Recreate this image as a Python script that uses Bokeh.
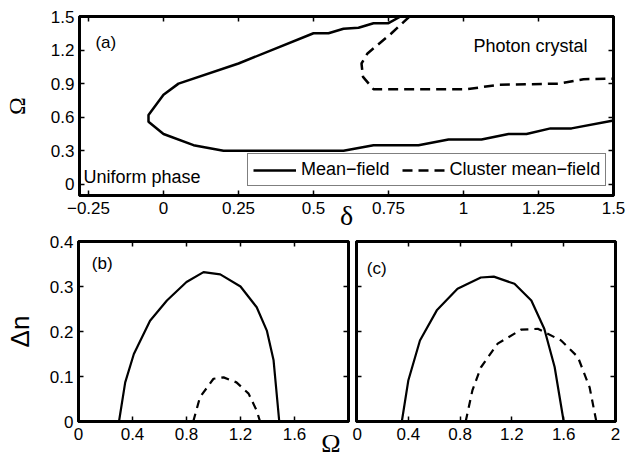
from bokeh.plotting import figure
from bokeh.layouts import column, row
from bokeh.models import Range1d, LinearAxis, FixedTicker, Label, Legend, LegendItem
from bokeh.embed import file_html
from bokeh.resources import INLINE

# ---- (a) phase diagram: detuning delta vs drive Omega ----
mf_delta = [0.79, 0.75, 0.70, 0.65, 0.60, 0.55, 0.50, 0.25, 0.05, 0.0, -0.05, -0.05,
            0.0, 0.10, 0.20, 0.60, 0.70, 0.85, 0.95, 1.06, 1.15, 1.21, 1.29, 1.36, 1.50]
mf_omega = [1.50, 1.44, 1.44, 1.40, 1.39, 1.35, 1.35, 1.08, 0.90, 0.80, 0.62, 0.56,
            0.45, 0.35, 0.30, 0.30, 0.35, 0.35, 0.40, 0.40, 0.45, 0.45, 0.50, 0.50, 0.57]
cmf_delta = [0.82, 0.76, 0.68, 0.66, 0.665, 0.70, 1.01, 1.12, 1.32, 1.40, 1.50]
cmf_omega = [1.50, 1.35, 1.17, 1.08, 0.96, 0.85, 0.85, 0.89, 0.90, 0.94, 0.945]

top_xticks = [-0.25, 0, 0.25, 0.5, 0.75, 1, 1.25, 1.5]
top_xlabels = ["\u22120.25", "0", "0.25", "0.5", "0.75", "1", "1.25", "1.5"]
top_yticks = [0, 0.3, 0.6, 0.9, 1.2, 1.5]
top_ylabels = ["0", "0.3", "0.6", "0.9", "1.2", "1.5"]

# ---- (b) and (c): order parameter Delta n vs Omega ----
b_mf_omega = [0.30, 0.346, 0.41, 0.53, 0.655, 0.80, 0.926, 1.05, 1.20, 1.32, 1.395, 1.445, 1.487]
b_mf_dn = [0.0, 0.087, 0.15, 0.224, 0.269, 0.31, 0.332, 0.327, 0.30, 0.254, 0.202, 0.136, 0.0]
b_cmf_omega = [0.85, 0.90, 1.0, 1.075, 1.17, 1.26, 1.32, 1.345]
b_cmf_dn = [0.0, 0.054, 0.095, 0.098, 0.087, 0.062, 0.024, 0.0]

c_mf_omega = [0.35, 0.40, 0.49, 0.62, 0.78, 0.96, 1.06, 1.22, 1.35, 1.45, 1.53, 1.60]
c_mf_dn = [0.0, 0.091, 0.18, 0.247, 0.295, 0.32, 0.322, 0.306, 0.269, 0.206, 0.121, 0.0]
c_cmf_omega = [0.843, 0.895, 0.96, 1.09, 1.27, 1.40, 1.58, 1.71, 1.80, 1.852]
c_cmf_dn = [0.0, 0.069, 0.12, 0.173, 0.204, 0.206, 0.18, 0.143, 0.076, 0.0]

b_xticks = [0, 0.4, 0.8, 1.2, 1.6]
c_xticks = [0, 0.4, 0.8, 1.2, 1.6, 2]
x_labels = ["0", "0.4", "0.8", "1.2", "1.6", "2"]
dn_ticks = [0, 0.1, 0.2, 0.3, 0.4]
dn_labels = ["0", "0.1", "0.2", "0.3", "0.4"]

SANS = "Liberation Sans"
SERIF = "Liberation Serif"
TICK_FS = "17px"


def style_axis(ax, ticks, labels, show_labels, standoff=5):
    ax.ticker = FixedTicker(ticks=ticks)
    ax.major_label_overrides = {t: l for t, l in zip(ticks, labels)}
    ax.axis_line_width = 3
    ax.axis_line_color = "black"
    ax.major_tick_in = 5
    ax.major_tick_out = 0
    ax.major_tick_line_width = 1.5
    ax.major_tick_line_color = "black"
    ax.minor_tick_in = 0
    ax.minor_tick_out = 0
    ax.major_label_text_font = SANS
    ax.major_label_text_color = "black"
    ax.axis_label_standoff = 0
    ax.axis_label_text_color = "black"
    ax.axis_label_text_font_style = "normal"
    if show_labels:
        ax.major_label_text_font_size = TICK_FS
        ax.major_label_standoff = standoff
    else:
        ax.major_label_text_font_size = "0px"
        ax.major_label_standoff = 0


def axis_title(ax, s, font, size, standoff):
    ax.axis_label = s
    ax.axis_label_text_font = font
    ax.axis_label_text_font_size = size
    ax.axis_label_standoff = standoff


def panel(width, height, xr, yr, left, right, top, bottom):
    p = figure(width=width, height=height, x_range=Range1d(*xr), y_range=Range1d(*yr),
               output_backend="svg", toolbar_location=None,
               min_border_left=left, min_border_right=right,
               min_border_top=top, min_border_bottom=bottom)
    p.xgrid.visible = False
    p.ygrid.visible = False
    p.outline_line_color = "black"
    p.outline_line_width = 3
    p.outline_line_alpha = 1
    p.background_fill_color = "white"
    p.border_fill_color = "white"
    return p


def mirror(p, xticks, yticks):
    top_ax = LinearAxis()
    right_ax = LinearAxis()
    style_axis(top_ax, xticks, [""] * len(xticks), False)
    style_axis(right_ax, yticks, [""] * len(yticks), False)
    p.add_layout(top_ax, "above")
    p.add_layout(right_ax, "right")


def text(p, x, y, s, size, font=SANS):
    p.add_layout(Label(x=x, y=y, text=s, text_font=font, text_font_size=size,
                       text_color="black", text_align="left",
                       text_baseline="alphabetic"))


# ---------------- panel (a) ----------------
pa = panel(639, 234, (-0.28, 1.5), (-0.1, 1.5), 79, 26, 16, 39)
style_axis(pa.xaxis[0], top_xticks, top_xlabels, True, standoff=6)
style_axis(pa.yaxis[0], top_yticks, top_ylabels, True, standoff=5)
axis_title(pa.yaxis[0], "\u03a9", SERIF, "24px", 18)
axis_title(pa.xaxis[0], "\u03b4", SERIF, "28px", -17)
mirror(pa, top_xticks, top_yticks)

r_mf = pa.line(mf_delta, mf_omega, line_color="black", line_width=2.5)
r_cmf = pa.line(cmf_delta, cmf_omega, line_color="black", line_width=2.5, line_dash="10 6")

legend = Legend(items=[LegendItem(label="Mean\u2212field", renderers=[r_mf]),
                       LegendItem(label="Cluster mean\u2212field", renderers=[r_cmf])],
                location=(168, 9), orientation="horizontal",
                label_text_font=SANS, label_text_font_size="18px",
                label_text_color="black",
                glyph_width=43, glyph_height=20, label_height=20,
                label_standoff=5, spacing=12, padding=5, margin=0,
                border_line_color="black", border_line_width=1.5,
                background_fill_color="white", background_fill_alpha=1)
pa.add_layout(legend)

text(pa, -0.227, 1.264, "(a)", "17px")
text(pa, -0.267, 0.061, "Uniform phase", "18px")
text(pa, 1.033, 1.24, "Photon crystal", "18px")

# ---------------- panel (b) ----------------
pb = panel(352, 228, (0, 2), (0, 0.4), 78, 4, 7, 41)
style_axis(pb.xaxis[0], b_xticks, x_labels[:5], True, standoff=6)
style_axis(pb.yaxis[0], dn_ticks, dn_labels, True, standoff=5)
axis_title(pb.yaxis[0], "\u0394n", SANS, "26px", 12)
mirror(pb, b_xticks + [2], dn_ticks)

# shared Omega title for the lower row, set just right of the last tick label of (b)
omega_pos = 1.87
omega_ax = LinearAxis(ticker=FixedTicker(ticks=[omega_pos]),
                      major_label_overrides={omega_pos: "\u03a9"},
                      axis_line_color=None, major_tick_line_color=None,
                      major_tick_in=0, major_tick_out=0,
                      minor_tick_in=0, minor_tick_out=0,
                      major_label_standoff=-14,
                      major_label_text_font=SERIF, major_label_text_font_size="26px",
                      major_label_text_color="black")
pb.add_layout(omega_ax, "below")

pb.line(b_mf_omega, b_mf_dn, line_color="black", line_width=2.2)
pb.line(b_cmf_omega, b_cmf_dn, line_color="black", line_width=2.2, line_dash="8 6")

text(pb, 0.099, 0.352, "(b)", "17px")

# ---------------- panel (c) ----------------
pc = panel(287, 228, (0, 2), (0, 0.4), 4, 24, 7, 41)
style_axis(pc.xaxis[0], c_xticks, x_labels, True, standoff=6)
style_axis(pc.yaxis[0], dn_ticks, [""] * len(dn_ticks), False)
mirror(pc, c_xticks, dn_ticks)

pc.line(c_mf_omega, c_mf_dn, line_color="black", line_width=2.2)
pc.line(c_cmf_omega, c_cmf_dn, line_color="black", line_width=2.2, line_dash="8 6")

text(pc, 0.079, 0.341, "(c)", "17px")

layout = column(pa, row(pb, pc, spacing=0), spacing=0)
open("out.html", "w").write(file_html(layout, INLINE))
